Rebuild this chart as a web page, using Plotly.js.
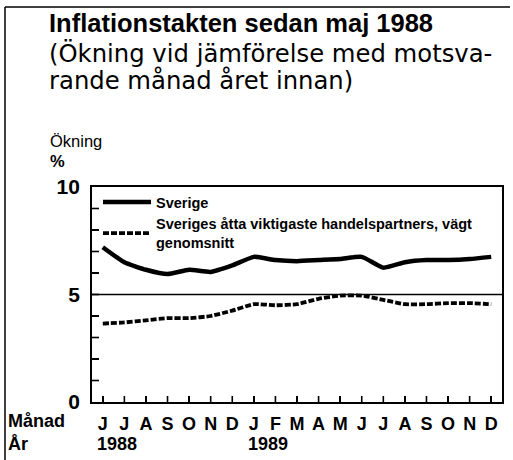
<!DOCTYPE html>
<html>
<head>
<meta charset="utf-8">
<script src="https://cdn.plot.ly/plotly-3.0.1.min.js"></script>
<style>html,body{margin:0;padding:0;background:#fff;}#chart{width:513px;height:460px;}</style>
</head>
<body>
<div id="chart"></div>
<script>
// Month labels (June 1988 – December 1989)
const months = ['J','J','A','S','O','N','D','J','F','M','A','M','J','J','A','S','O','N','D'];
const yearLabels = ['1988', '1989'];
const yearStartIndex = [0, 7];
// Inflation, % change vs same month previous year
const sverige = [7.2, 6.5, 6.15, 5.95, 6.15, 6.05, 6.35, 6.75, 6.6, 6.55, 6.6, 6.65, 6.75, 6.25, 6.5, 6.6, 6.6, 6.65, 6.75];
const partners = [3.65, 3.7, 3.8, 3.9, 3.9, 4.0, 4.25, 4.55, 4.5, 4.55, 4.8, 4.95, 4.95, 4.75, 4.55, 4.55, 4.6, 4.6, 4.55];
const seriesNames = ['Sverige', 'Sveriges åtta viktigaste handelspartners, vägt<br>genomsnitt'];
const yTickVals = [0, 1, 2, 3, 4, 5, 6, 7, 8, 9, 10];
const yTickText = ['0', '', '', '', '', '5', '', '', '', '', '10'];

const idx = months.map((_, i) => i);
const xRange = [-0.5, 18.5];
const yRange = [0, 10];
const FONT = '"Liberation Sans", Arial, Helvetica, sans-serif';
const WIDEFONT = '"DejaVu Sans", "Liberation Sans", Arial, sans-serif';
const NB = '\u00a0';

// layout geometry (pixels)
const L = 92, R = 11, T = 187, B = 58, W = 513, H = 460;
const pw = W - L - R, ph = H - T - B;
const px = x => (x - L) / pw;
const py = y => (H - B - y) / ph;

const traces = [
  {x: idx, y: sverige, name: seriesNames[0], mode: 'lines',
   line: {color: '#000', width: 4.5, shape: 'spline', smoothing: 0.5}},
  {x: idx, y: partners, name: seriesNames[1], mode: 'lines',
   line: {color: '#000', width: 3.8, dash: '6px,2px', shape: 'spline', smoothing: 0.5}}
];

const ann = (text, x, y, size, bold, family, extra) => Object.assign({
  text: bold ? '<b>' + text + '</b>' : text, xref: 'paper', yref: 'paper',
  x: px(x), y: py(y), xanchor: 'left', yanchor: 'middle', showarrow: false,
  font: {family: family || FONT, size: size, color: '#000'}
}, extra || {});

const annotations = [
  ann('Inflationstakten sedan maj 1988', 47, 23, 25.5, true),
  ann('(Ökning vid jämförelse med motsva-', 47, 53, 24.3, false, WIDEFONT),
  ann('rande månad året innan)', 47, 81, 24.3, false, WIDEFONT),
  ann('Ökning', 48, 141, 16.5, false),
  ann('%', 48, 161, 16.5, true),
  ann('Månad', 6, 421, 18, true),
  ann('År', 6, 444, 18, true)
];
yearLabels.forEach((t, k) => {
  annotations.push({text: '<b>' + t + '</b>', xref: 'x', yref: 'paper',
    x: yearStartIndex[k], y: py(444), xanchor: 'left', yanchor: 'middle', xshift: -8,
    showarrow: false, font: {family: FONT, size: 18, color: '#000'}});
});

// inward tick marks, placed through the axes' own scales
const tickShapes = []
  .concat(yTickVals.filter(v => v > yRange[0] && v < yRange[1]).map(v => ({
    type: 'line', xref: 'paper', yref: 'y', x0: 0, x1: 7 / pw, y0: v, y1: v,
    line: {color: '#000', width: 1.6}})))
  .concat(idx.map(i => ({
    type: 'line', xref: 'x', yref: 'paper', x0: i, x1: i, y0: 0, y1: 6 / ph,
    line: {color: '#000', width: 1.6}})));

const layout = {
  width: W, height: H,
  margin: {l: L, r: R, t: T, b: B, pad: 0},
  paper_bgcolor: '#fff', plot_bgcolor: '#fff',
  font: {family: FONT, color: '#000'},
  showlegend: true,
  legend: {x: px(98), y: py(186), xanchor: 'left', yanchor: 'top',
    bgcolor: 'rgba(0,0,0,0)', borderwidth: 0, itemwidth: 48,
    font: {family: FONT, size: 14.5, color: '#000', weight: 'bold'},
    tracegroupgap: 0},
  xaxis: {range: xRange, tickmode: 'array', tickvals: idx, ticktext: months,
    ticks: 'inside', ticklen: 6, tickwidth: 1.5, tickcolor: '#000',
    showline: true, linecolor: '#000', linewidth: 2, mirror: true,
    showgrid: false, zeroline: false, fixedrange: true,
    tickfont: {family: FONT, size: 18, color: '#000', weight: 'bold'}, ticklabelstandoff: 4},
  yaxis: {range: yRange, tickmode: 'array', tickvals: yTickVals,
    ticktext: yTickText.map(t => t ? t + NB : t),
    ticks: 'inside', ticklen: 7, tickwidth: 1.5, tickcolor: '#000',
    showline: true, linecolor: '#000', linewidth: 2, mirror: true,
    showgrid: false, zeroline: false, fixedrange: true,
    tickfont: {family: FONT, size: 21, color: '#000', weight: 'bold'}},
  shapes: [
    {type: 'line', xref: 'paper', yref: 'y', x0: 0, x1: 1, y0: 5, y1: 5,
     line: {color: '#000', width: 1.5}},
    {type: 'line', xref: 'paper', yref: 'paper', x0: px(5), x1: px(5), y0: py(7), y1: py(470),
     line: {color: '#000', width: 1.5}},
    {type: 'line', xref: 'paper', yref: 'paper', x0: px(5), x1: px(510), y0: py(7), y1: py(7),
     line: {color: '#000', width: 1.5}}
  ].concat(tickShapes),
  annotations: annotations
};

Plotly.newPlot('chart', traces, layout, {displayModeBar: false, staticPlot: true});
</script>
</body>
</html>
